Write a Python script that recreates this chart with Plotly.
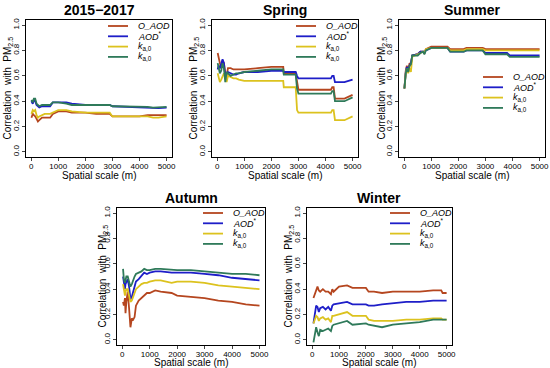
import plotly.graph_objects as go

W, H = 550, 368

# ---------------- data ----------------
series_names = ["<i>O_AOD</i>", "<i>AOD</i><sup>*</sup>", "<i>k</i><sub>a,0</sub>", "<i>k</i><sub>a,0</sub>"]
series_colors = ["#B5461F", "#1E1EC8", "#DCC21E", "#2F7A5A"]
panel_titles = ["2015\u22122017", "Spring", "Summer", "Autumn", "Winter"]
x_ticks = [0, 1000, 2000, 3000, 4000, 5000]
x_tick_text = ["0", "1000", "2000", "3000", "4000", "5000"]
y_ticks = [0.0, 0.2, 0.4, 0.6, 0.8, 1.0]
y_tick_text = ["0.0", "0.2", "0.4", "0.6", "0.8", "1.0"]

all_x = [10, 60, 100, 150, 200, 250, 300, 400, 500, 700, 800, 1000, 1300, 1500, 2000, 2400, 2900, 3000, 3500, 4000, 4300, 4500, 4700, 5000]
all_o = [0.27, 0.30, 0.29, 0.28, 0.26, 0.24, 0.25, 0.27, 0.27, 0.27, 0.30, 0.32, 0.32, 0.31, 0.31, 0.30, 0.30, 0.28, 0.28, 0.28, 0.29, 0.29, 0.29, 0.29]
all_aod = [0.40, 0.38, 0.41, 0.40, 0.37, 0.36, 0.35, 0.36, 0.36, 0.36, 0.39, 0.39, 0.39, 0.38, 0.37, 0.37, 0.37, 0.36, 0.355, 0.355, 0.35, 0.345, 0.345, 0.35]
all_ks = [0.30, 0.33, 0.32, 0.33, 0.29, 0.27, 0.28, 0.29, 0.30, 0.30, 0.31, 0.33, 0.33, 0.32, 0.31, 0.31, 0.31, 0.28, 0.28, 0.28, 0.28, 0.27, 0.27, 0.28]
all_ka = [0.41, 0.39, 0.42, 0.42, 0.38, 0.37, 0.36, 0.37, 0.37, 0.37, 0.39, 0.39, 0.38, 0.37, 0.37, 0.37, 0.37, 0.36, 0.36, 0.36, 0.355, 0.35, 0.35, 0.355]

spr_x = [20, 50, 100, 150, 200, 250, 300, 350, 400, 500, 600, 700, 800, 1000, 1500, 2000, 2440, 2460, 2900, 2950, 3000, 3500, 4200, 4250, 4300, 4350, 4700, 5000]
spr_o = [0.78, 0.74, 0.70, 0.66, 0.72, 0.70, 0.62, 0.60, 0.66, 0.66, 0.65, 0.65, 0.65, 0.65, 0.66, 0.67, 0.67, 0.62, 0.62, 0.55, 0.49, 0.49, 0.49, 0.51, 0.51, 0.42, 0.42, 0.45]
spr_aod = [0.65, 0.68, 0.66, 0.70, 0.73, 0.70, 0.60, 0.62, 0.63, 0.62, 0.61, 0.61, 0.62, 0.63, 0.63, 0.64, 0.64, 0.63, 0.63, 0.60, 0.58, 0.58, 0.58, 0.60, 0.60, 0.55, 0.55, 0.57]
spr_ks = [0.62, 0.58, 0.55, 0.57, 0.60, 0.62, 0.60, 0.55, 0.60, 0.59, 0.58, 0.58, 0.57, 0.56, 0.56, 0.56, 0.56, 0.51, 0.51, 0.33, 0.31, 0.31, 0.31, 0.33, 0.33, 0.25, 0.25, 0.28]
spr_ka = [0.70, 0.66, 0.62, 0.64, 0.70, 0.66, 0.55, 0.63, 0.62, 0.60, 0.61, 0.62, 0.62, 0.63, 0.64, 0.65, 0.65, 0.61, 0.61, 0.50, 0.46, 0.46, 0.46, 0.48, 0.48, 0.40, 0.40, 0.43]

sum_x = [10, 30, 60, 100, 150, 200, 250, 300, 500, 600, 700, 750, 800, 1000, 1600, 1700, 2200, 2300, 2900, 3000, 3800, 3900, 5000]
sum_o = [0.50, 0.58, 0.64, 0.68, 0.64, 0.70, 0.69, 0.76, 0.77, 0.79, 0.79, 0.78, 0.81, 0.83, 0.83, 0.81, 0.81, 0.82, 0.82, 0.81, 0.81, 0.81, 0.81]
sum_aod = [0.50, 0.58, 0.63, 0.67, 0.64, 0.68, 0.70, 0.76, 0.77, 0.79, 0.79, 0.78, 0.80, 0.82, 0.82, 0.79, 0.79, 0.80, 0.80, 0.78, 0.78, 0.76, 0.76]
sum_ks = [0.50, 0.56, 0.62, 0.66, 0.62, 0.66, 0.63, 0.75, 0.77, 0.78, 0.79, 0.78, 0.81, 0.82, 0.82, 0.80, 0.80, 0.81, 0.81, 0.80, 0.80, 0.80, 0.80]
sum_ka = [0.50, 0.57, 0.62, 0.66, 0.63, 0.68, 0.69, 0.76, 0.76, 0.78, 0.79, 0.77, 0.80, 0.82, 0.82, 0.79, 0.79, 0.80, 0.80, 0.77, 0.77, 0.75, 0.75]

aut_x = [30, 60, 100, 120, 150, 200, 250, 300, 350, 400, 450, 500, 600, 700, 800, 900, 1000, 1200, 1400, 1800, 2000, 2500, 3000, 3500, 4000, 4500, 5000]
aut_o = [0.30, 0.27, 0.33, 0.21, 0.30, 0.38, 0.25, 0.10, 0.17, 0.16, 0.18, 0.27, 0.31, 0.33, 0.35, 0.37, 0.37, 0.39, 0.38, 0.37, 0.35, 0.34, 0.33, 0.31, 0.30, 0.28, 0.27]
aut_aod = [0.50, 0.44, 0.40, 0.44, 0.46, 0.48, 0.42, 0.32, 0.34, 0.38, 0.42, 0.46, 0.48, 0.51, 0.53, 0.52, 0.53, 0.54, 0.54, 0.53, 0.53, 0.53, 0.52, 0.51, 0.49, 0.48, 0.47]
aut_ks = [0.44, 0.38, 0.35, 0.38, 0.40, 0.40, 0.36, 0.30, 0.31, 0.34, 0.36, 0.40, 0.42, 0.44, 0.45, 0.45, 0.46, 0.47, 0.47, 0.45, 0.46, 0.46, 0.45, 0.43, 0.42, 0.41, 0.40]
aut_ka = [0.56, 0.48, 0.45, 0.48, 0.50, 0.50, 0.46, 0.42, 0.44, 0.48, 0.50, 0.52, 0.53, 0.54, 0.56, 0.55, 0.55, 0.56, 0.56, 0.55, 0.55, 0.55, 0.54, 0.53, 0.52, 0.52, 0.51]

win_x = [50, 100, 150, 200, 250, 300, 400, 500, 600, 700, 750, 800, 1000, 1300, 1500, 2000, 2100, 2300, 2600, 3000, 3500, 4000, 4500, 4800, 4850, 5000]
win_o = [0.33, 0.36, 0.40, 0.42, 0.39, 0.38, 0.40, 0.38, 0.38, 0.36, 0.40, 0.38, 0.42, 0.43, 0.41, 0.41, 0.38, 0.38, 0.37, 0.38, 0.38, 0.38, 0.39, 0.39, 0.37, 0.37]
win_aod = [0.13, 0.20, 0.27, 0.26, 0.22, 0.25, 0.26, 0.24, 0.26, 0.23, 0.27, 0.28, 0.29, 0.30, 0.28, 0.28, 0.27, 0.27, 0.28, 0.29, 0.30, 0.30, 0.31, 0.31, 0.31, 0.31]
win_ks = [0.13, 0.16, 0.19, 0.18, 0.15, 0.17, 0.18, 0.16, 0.17, 0.14, 0.19, 0.19, 0.20, 0.22, 0.19, 0.19, 0.16, 0.15, 0.15, 0.15, 0.16, 0.16, 0.17, 0.17, 0.16, 0.16]
win_ka = [-0.02, 0.04, 0.10, 0.06, 0.03, 0.08, 0.07, 0.08, 0.09, 0.07, 0.11, 0.12, 0.13, 0.15, 0.12, 0.13, 0.12, 0.11, 0.10, 0.12, 0.13, 0.14, 0.16, 0.16, 0.16, 0.16]

panels_data = [
    (all_x, [all_o, all_aod, all_ks, all_ka]),
    (spr_x, [spr_o, spr_aod, spr_ks, spr_ka]),
    (sum_x, [sum_o, sum_aod, sum_ks, sum_ka]),
    (aut_x, [aut_o, aut_aod, aut_ks, aut_ka]),
    (win_x, [win_o, win_aod, win_ks, win_ka]),
]

# ---------------- layout (pixel boxes) ----------------
boxes = [(26, 172, 20, 157), (212, 358, 20, 157), (399, 545, 20, 157),
         (117, 265, 208, 345), (307, 452, 208, 345)]
xtitle_y = [175, 175, 175, 362, 362]
legend_pos = [(108, 26), (296, 26), (483, 77), (203, 213), (390, 213)]
ytitle_x = [7, 193, 381, 102, 288]

FONT = "Liberation Sans, Arial, sans-serif"

def px(x):
    return x / W

def py(y):
    return 1 - y / H

fig = go.Figure()
layout = dict(width=W, height=H, margin=dict(l=0, r=0, t=0, b=0, autoexpand=False),
              paper_bgcolor="white", plot_bgcolor="white", showlegend=False,
              font=dict(family=FONT, color="black"))
annotations = []
shapes = []

for i, (xs, ys_list) in enumerate(panels_data):
    n = "" if i == 0 else str(i + 1)
    l, r, t, b = boxes[i]
    for j, ys in enumerate(ys_list):
        fig.add_trace(go.Scatter(x=xs, y=ys, mode="lines", name=series_names[j],
                                 line=dict(color=series_colors[j], width=1.8),
                                 xaxis="x" + n, yaxis="y" + n, hoverinfo="skip"))
    layout["xaxis" + n] = dict(domain=[px(l), px(r)], range=[-190, 5200], anchor="y" + n,
                               tickmode="array", tickvals=x_ticks, ticktext=x_tick_text,
                               ticks="outside", ticklen=3, tickwidth=1, ticklabelstandoff=-2,
                               tickangle=0, automargin=False,
                               tickfont=dict(size=8, family=FONT), showgrid=False, zeroline=False,
                               showline=True, linecolor="black", linewidth=1, mirror=True)
    layout["yaxis" + n] = dict(domain=[py(b), py(t)], range=[-0.04, 1.04], anchor="x" + n,
                               tickmode="array", tickvals=y_ticks, ticktext=y_tick_text,
                               ticks="outside", ticklen=3, automargin=False,
                               tickwidth=1, tickangle=-90,
                               tickfont=dict(size=8, family=FONT), showgrid=False, zeroline=False,
                               showline=True, linecolor="black", linewidth=1, mirror=True)
    cx = (l + r) / 2
    cy = (t + b) / 2
    annotations.append(dict(text="<b>" + panel_titles[i] + "</b>", x=px(cx), y=py(t - 10),
                            xref="paper", yref="paper", showarrow=False,
                            xanchor="center", yanchor="middle", font=dict(size=14, family=FONT)))
    annotations.append(dict(text="Spatial scale (m)", x=px(cx), y=py(xtitle_y[i]),
                            xref="paper", yref="paper", showarrow=False,
                            xanchor="center", yanchor="middle", font=dict(size=10, family=FONT)))
    annotations.append(dict(text="Correlation  with  PM<sub>2.5</sub>", x=px(ytitle_x[i]), y=py(cy),
                            xref="paper", yref="paper", showarrow=False, textangle=-90,
                            xanchor="center", yanchor="middle", font=dict(size=10, family=FONT)))
    lx, ly = legend_pos[i]
    for j in range(4):
        yy = ly + j * 10.3
        shapes.append(dict(type="line", xref="paper", yref="paper",
                           x0=px(lx), x1=px(lx + 20), y0=py(yy), y1=py(yy),
                           line=dict(color=series_colors[j], width=1.8)))
        annotations.append(dict(text=series_names[j], x=px(lx + 28), y=py(yy),
                                xref="paper", yref="paper", showarrow=False,
                                xanchor="left", yanchor="middle", font=dict(size=9, family=FONT)))

layout["annotations"] = annotations
layout["shapes"] = shapes
fig.update_layout(**layout)
fig.write_html("out.html", config={"displayModeBar": False, "staticPlot": True},
               post_script="document.body.style.margin='0';document.body.style.padding='0';")
